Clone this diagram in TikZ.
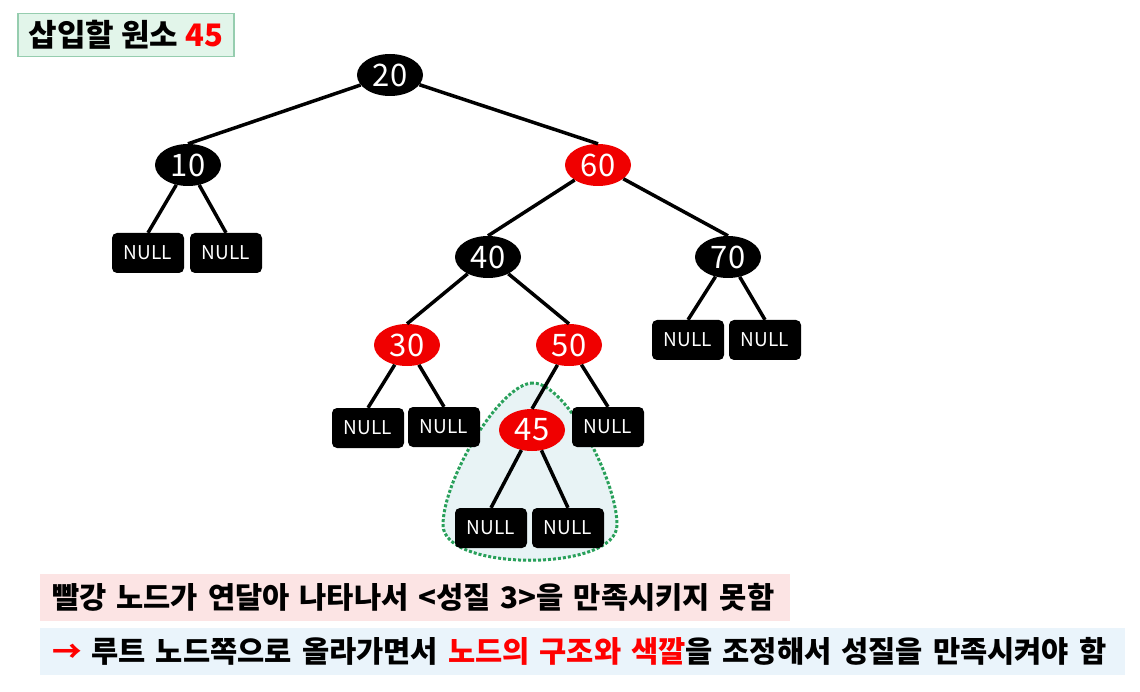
\documentclass[tikz,border=0pt]{standalone}
\usepackage{fontspec}
\setmainfont{Noto Sans CJK KR}
\usepackage{xcolor}
\usetikzlibrary{shapes.geometric}
\definecolor{nodered}{RGB}{240,0,0}
\definecolor{textred}{RGB}{255,0,0}
\definecolor{blobfill}{RGB}{232,243,245}
\definecolor{blobline}{RGB}{40,160,90}
\definecolor{titlefill}{RGB}{226,245,234}
\definecolor{titleline}{RGB}{150,205,175}
\definecolor{warnfill}{RGB}{252,228,228}
\definecolor{fixfill}{RGB}{234,244,251}
\tikzset{
  blacknode/.style={ellipse,fill=black,text=white,minimum width=66pt,minimum height=42pt,
    inner sep=0pt,font=\fontsize{31}{31}\selectfont},
  rednode/.style={blacknode,fill=nodered},
  nullbox/.style={fill=black,text=white,rounded corners=5pt,minimum width=72pt,
    minimum height=40pt,inner sep=0pt,font=\fontsize{19}{19}\selectfont},
  treeedge/.style={line width=3.5pt,black},
  notebox/.style={anchor=west,inner xsep=12pt,minimum height=47pt,align=left,
    font=\bfseries\fontsize{29.6}{31}\selectfont}
}
\begin{document}
\begin{tikzpicture}[x=1pt,y=-1pt]
  \useasboundingbox (0,0) rectangle (1140,692);
  % subtree of the new node
  \draw[blobline,fill=blobfill,line width=3pt,dotted]
    (533,383) .. controls (500,383) and (443,480) .. (443,525)
    .. controls (443,572) and (617,572) .. (617,525)
    .. controls (617,480) and (566,383) .. (533,383);
  % title
  \node[draw=titleline,fill=titlefill,line width=1.2pt,minimum width=216pt,minimum height=43pt,
    font=\bfseries\fontsize{31}{31}\selectfont] (title) at (126,35) {삽입할 원소 \textcolor{textred}{45}};
  % tree
  \node[blacknode] (n20) at (390,75) {20};
  \node[blacknode] (n10) at (188,165) {10};
  \node[rednode] (n60) at (598,165) {60};
  \node[blacknode] (n40) at (488,257) {40};
  \node[blacknode] (n70) at (728,257) {70};
  \node[rednode] (n30) at (407,345) {30};
  \node[rednode] (n50) at (569,345) {50};
  \node[rednode] (n45) at (532,430) {45};
  \node[nullbox] (n10l) at (148,253) {NULL};
  \node[nullbox] (n10r) at (226,253) {NULL};
  \node[nullbox] (n70l) at (688,340) {NULL};
  \node[nullbox] (n70r) at (765,340) {NULL};
  \node[nullbox] (n30l) at (368,428) {NULL};
  \node[nullbox] (n30r) at (444,427) {NULL};
  \node[nullbox] (n50r) at (608,427) {NULL};
  \node[nullbox] (n45l) at (491,528) {NULL};
  \node[nullbox] (n45r) at (568,528) {NULL};
  \draw[treeedge] (n20) -- (n10.north);
  \draw[treeedge] (n20) -- (n60.north);
  \draw[treeedge] (n10) -- (n10l.north);
  \draw[treeedge] (n10) -- (n10r.north);
  \draw[treeedge] (n60) -- (n40.north);
  \draw[treeedge] (n60) -- (n70.north);
  \draw[treeedge] (n40) -- (n30.north);
  \draw[treeedge] (n40) -- (n50.north);
  \draw[treeedge] (n70) -- (n70l.north);
  \draw[treeedge] (n70) -- (n70r.north);
  \draw[treeedge] (n30) -- (n30l.north);
  \draw[treeedge] (n30) -- (n30r.north);
  \draw[treeedge] (n50) -- (n45.north);
  \draw[treeedge] (n50) -- (n50r.north);
  \draw[treeedge] (n45) -- (n45l.north);
  \draw[treeedge] (n45) -- (n45r.north);
  % notes
  \node[notebox,fill=warnfill,text width=726pt] (warn) at (40,597)
    {\mbox{빨강 노드가 연달아 나타나서 <성질 3>을 만족시키지 못함}};
  \node[notebox,fill=fixfill,text width=1061pt] (fix) at (40,651)
    {\mbox{\textcolor{textred}{→} 루트 노드쪽으로 올라가면서 \textcolor{textred}{노드의 구조와 색깔}을 조정해서 성질을 만족시켜야 함}};
\end{tikzpicture}
\end{document}
